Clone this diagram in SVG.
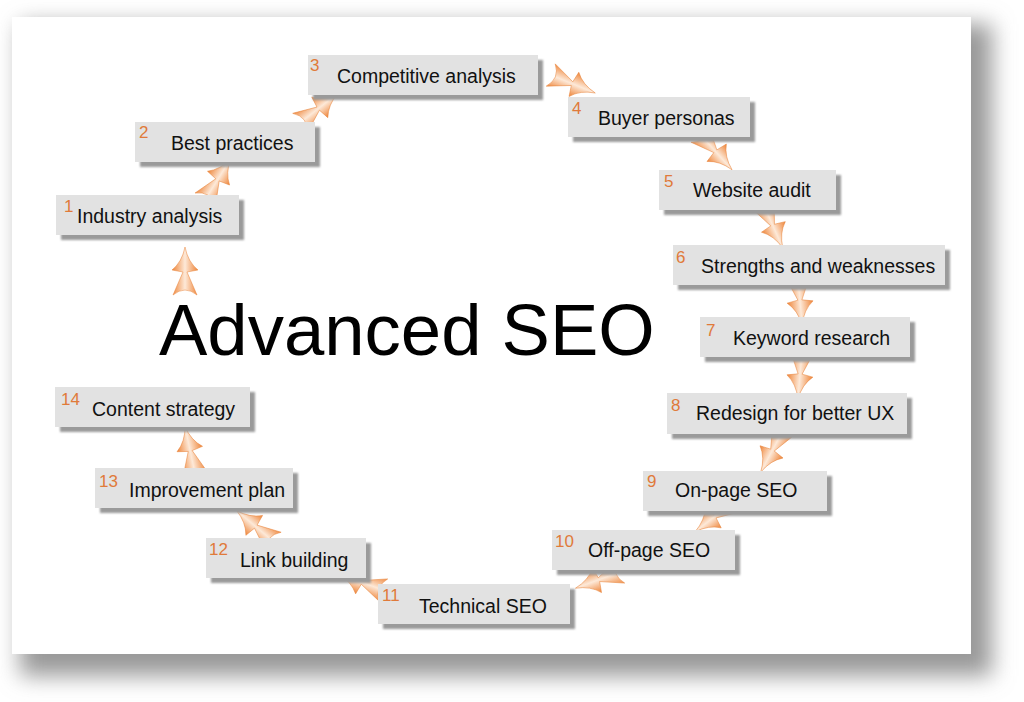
<svg xmlns="http://www.w3.org/2000/svg" width="1024" height="702" viewBox="0 0 1024 702">
<defs>
  <style>
    .box{fill:#e2e2e2}
    .sh{fill:#9a9a9a}
    .lbl{font-family:"Liberation Sans",Arial,sans-serif;font-size:19.5px;fill:#111}
    .num{font-family:"Liberation Sans",Arial,sans-serif;font-size:17px;fill:#e07a3a}
    .title{font-family:"Liberation Sans",Arial,sans-serif;font-size:72.5px;fill:#000}
  </style>
  <filter id="pageShadow" x="-10%" y="-10%" width="125%" height="130%">
    <feGaussianBlur stdDeviation="11"/>
  </filter>
  <filter id="boxBlur" x="-5%" y="-20%" width="110%" height="140%">
    <feGaussianBlur stdDeviation="1.2"/>
  </filter>
  <linearGradient id="og" x1="0" y1="0" x2="0" y2="1">
    <stop offset="0" stop-color="#ee8438"/>
    <stop offset="0.5" stop-color="#fde9d8"/>
    <stop offset="1" stop-color="#ee8438"/>
  </linearGradient>
  <path id="bow" d="M24,0 Q9,-3 1,-13 L-1,-2 L-24,-12 Q-14,0 -24,12 L-1,2 L1,13 Q9,3 24,0 Z" fill="url(#og)" stroke="#e88238" stroke-width="0.5"/>
</defs>

<rect width="1024" height="702" fill="#ffffff"/>
<rect x="20" y="24" width="972" height="652" fill="#999999" filter="url(#pageShadow)"/>
<rect x="12" y="17" width="959" height="637" fill="#ffffff"/>

<text class="title" x="159" y="355">Advanced SEO</text>

<g id="connectors">
  <use href="#bow" transform="translate(185,271) rotate(-90)"/>
  <use href="#bow" transform="translate(218,179) rotate(-58)"/>
  <use href="#bow" transform="translate(319,108) rotate(-38)"/>
  <use href="#bow" transform="translate(573,84) rotate(22)"/>
  <use href="#bow" transform="translate(716,152) rotate(48)"/>
  <use href="#bow" transform="translate(773,226) rotate(66)"/>
  <use href="#bow" transform="translate(800,301) rotate(85)"/>
  <use href="#bow" transform="translate(800,375) rotate(95)"/>
  <use href="#bow" transform="translate(772,451) rotate(118)"/>
  <use href="#bow" transform="translate(714,517) rotate(142)"/>
  <use href="#bow" transform="translate(598,580) rotate(160)"/>
  <use href="#bow" transform="translate(361,582) rotate(200)"/>
  <use href="#bow" transform="translate(255,526) rotate(-140)"/>
  <use href="#bow" transform="translate(190,450) rotate(-102)"/>
</g>

<g id="n1"><rect class="sh" x="61" y="200" width="183" height="40" filter="url(#boxBlur)"/><rect class="box" x="56" y="195" width="183" height="40"/><text class="num" x="64" y="212">1</text><text class="lbl" x="77" y="223">Industry analysis</text></g>
<g id="n2"><rect class="sh" x="140" y="127" width="180" height="40" filter="url(#boxBlur)"/><rect class="box" x="135" y="122" width="180" height="40"/><text class="num" x="139" y="138">2</text><text class="lbl" x="171" y="150">Best practices</text></g>
<g id="n3"><rect class="sh" x="313" y="60" width="230" height="40" filter="url(#boxBlur)"/><rect class="box" x="308" y="55" width="230" height="40"/><text class="num" x="310" y="71">3</text><text class="lbl" x="337" y="83">Competitive analysis</text></g>
<g id="n4"><rect class="sh" x="573" y="102" width="182" height="40" filter="url(#boxBlur)"/><rect class="box" x="568" y="97" width="182" height="40"/><text class="num" x="572" y="114">4</text><text class="lbl" x="598" y="125">Buyer personas</text></g>
<g id="n5"><rect class="sh" x="664" y="175" width="177" height="40" filter="url(#boxBlur)"/><rect class="box" x="659" y="170" width="177" height="40"/><text class="num" x="664" y="187">5</text><text class="lbl" x="693" y="197">Website audit</text></g>
<g id="n6"><rect class="sh" x="678" y="250" width="272" height="40" filter="url(#boxBlur)"/><rect class="box" x="673" y="245" width="272" height="40"/><text class="num" x="676" y="263">6</text><text class="lbl" x="701" y="273">Strengths and weaknesses</text></g>
<g id="n7"><rect class="sh" x="705" y="322" width="210" height="40" filter="url(#boxBlur)"/><rect class="box" x="700" y="317" width="210" height="40"/><text class="num" x="706" y="336">7</text><text class="lbl" x="733" y="345">Keyword research</text></g>
<g id="n8"><rect class="sh" x="672" y="398" width="240" height="41" filter="url(#boxBlur)"/><rect class="box" x="667" y="393" width="240" height="41"/><text class="num" x="671" y="411">8</text><text class="lbl" x="696" y="420">Redesign for better UX</text></g>
<g id="n9"><rect class="sh" x="648" y="476" width="184" height="40" filter="url(#boxBlur)"/><rect class="box" x="643" y="471" width="184" height="40"/><text class="num" x="647" y="487">9</text><text class="lbl" x="675" y="497">On-page SEO</text></g>
<g id="n10"><rect class="sh" x="557" y="535" width="183" height="40" filter="url(#boxBlur)"/><rect class="box" x="552" y="530" width="183" height="40"/><text class="num" x="555" y="547">10</text><text class="lbl" x="588" y="557">Off-page SEO</text></g>
<g id="n11"><rect class="sh" x="383" y="589" width="192" height="40" filter="url(#boxBlur)"/><rect class="box" x="378" y="584" width="192" height="40"/><text class="num" x="382" y="601">11</text><text class="lbl" x="419" y="613">Technical SEO</text></g>
<g id="n12"><rect class="sh" x="211" y="543" width="160" height="40" filter="url(#boxBlur)"/><rect class="box" x="206" y="538" width="160" height="40"/><text class="num" x="209" y="555">12</text><text class="lbl" x="240" y="567">Link building</text></g>
<g id="n13"><rect class="sh" x="100" y="473" width="198" height="40" filter="url(#boxBlur)"/><rect class="box" x="95" y="468" width="198" height="40"/><text class="num" x="99" y="487">13</text><text class="lbl" x="129" y="497">Improvement plan</text></g>
<g id="n14"><rect class="sh" x="60" y="392" width="195" height="40" filter="url(#boxBlur)"/><rect class="box" x="55" y="387" width="195" height="40"/><text class="num" x="61" y="405">14</text><text class="lbl" x="92" y="416">Content strategy</text></g>
</svg>
